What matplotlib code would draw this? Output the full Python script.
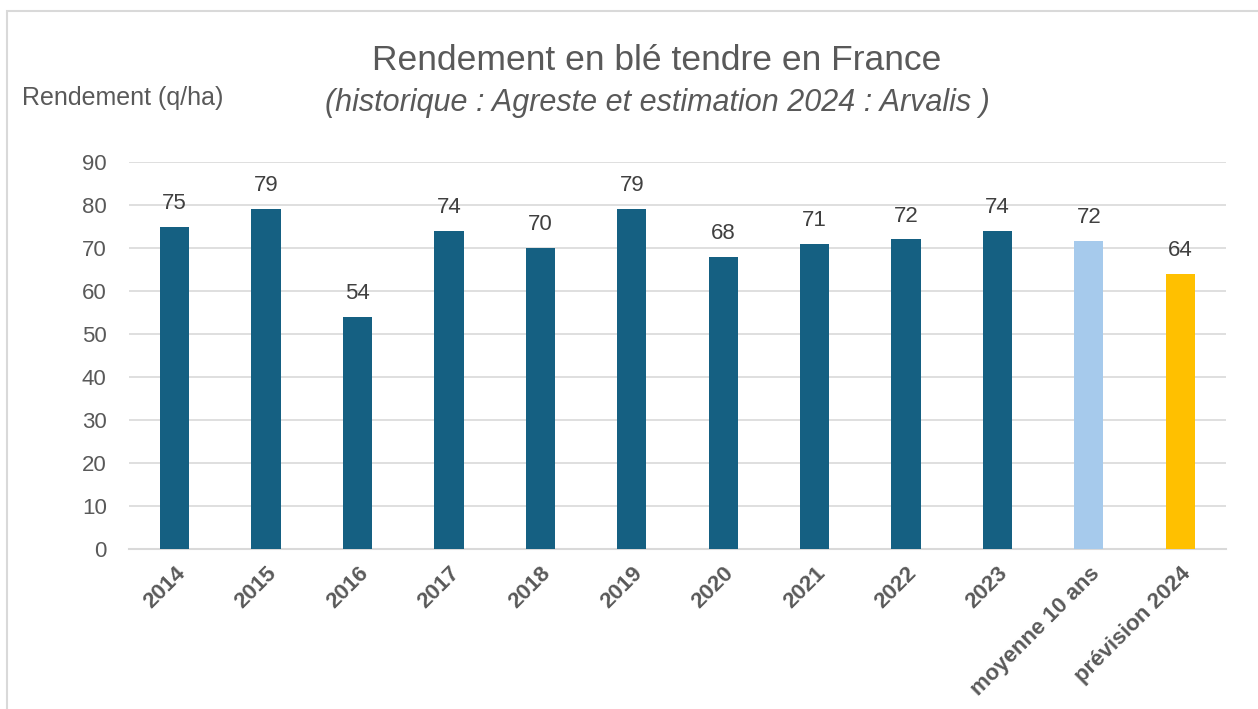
import matplotlib
matplotlib.use("Agg")
import matplotlib.pyplot as plt
from matplotlib.patches import Rectangle

plt.rcParams["font.family"] = ["Liberation Sans", "DejaVu Sans"]

# Data
categories = ["2014", "2015", "2016", "2017", "2018", "2019", "2020",
              "2021", "2022", "2023", "moyenne 10 ans", "prévision 2024"]
rendement = [75, 79, 54, 74, 70, 79, 68, 71, 72, 74, 71.6, 64]
labels = ["75", "79", "54", "74", "70", "79", "68", "71", "72", "74", "72", "64"]
bar_colors = ["#156082"] * 10 + ["#A6CAEC", "#FFC000"]

text_color = "#595959"

fig = plt.figure(figsize=(12.58, 7.09), dpi=100)
ax = fig.add_axes([0.1025, 0.2257, 0.872, 0.5458])

# light frame around the chart area (as in Excel)
fig.patches.append(Rectangle((7 / 1258, -0.05), 1.2, 1 - 11 / 709 + 0.05,
                             transform=fig.transFigure, fill=False,
                             edgecolor="#D9D9D9", linewidth=1.5))

x = range(len(categories))
bars = ax.bar(x, rendement, width=0.32, color=bar_colors, zorder=3)

# value labels above bars
for xi, val, lab in zip(x, rendement, labels):
    ax.text(xi, val + 3.0, lab, ha="center", va="bottom",
            fontsize=16, color="#404040")

ax.set_ylim(0, 90)
ax.set_xlim(-0.5, len(categories) - 0.5)
ax.set_yticks(range(0, 91, 10))
ax.yaxis.grid(True, color="#D9D9D9", linewidth=1.2, zorder=0)
ax.tick_params(axis="y", length=0, labelsize=16, labelcolor=text_color, pad=16)
ax.tick_params(axis="x", length=0, pad=10)
ax.set_xticks(list(x))
ax.set_xticklabels(categories, rotation=45, ha="right", rotation_mode="anchor",
                   fontsize=16, fontweight="bold", color=text_color)
for s in ["top", "right", "left"]:
    ax.spines[s].set_visible(False)
ax.spines["bottom"].set_color("#D9D9D9")
ax.spines["bottom"].set_linewidth(1.5)

# titles
fig.text(657 / 1258, 1 - 60 / 709, "Rendement en blé tendre en France",
         ha="center", va="center", fontsize=25.5, color=text_color)
fig.text(657 / 1258, 1 - 103 / 709,
         "(historique : Agreste et estimation 2024 : Arvalis )",
         ha="center", va="center", fontsize=22, style="italic", color=text_color)
fig.text(22 / 1258, 1 - 98 / 709, "Rendement (q/ha)",
         ha="left", va="center", fontsize=18, color=text_color)

plt.savefig("out.png", dpi=100)
